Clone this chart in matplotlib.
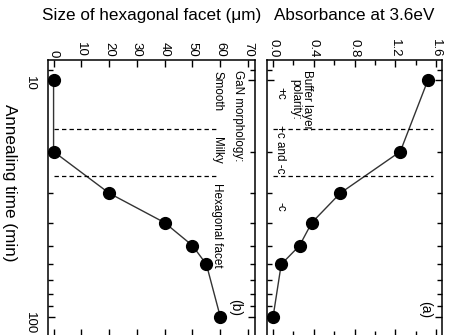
import matplotlib
matplotlib.use('Agg')
from matplotlib import pyplot as plt
from matplotlib.ticker import FixedLocator, MultipleLocator, NullFormatter

plt.rcParams['font.family'] = ['Liberation Sans', 'DejaVu Sans']

# annealing series, shared by both panels
anneal_time = [10, 20, 30, 40, 50, 60, 100]
facet_size = [0, 0, 20, 40, 50, 55, 60]
absorbance = [1.52, 1.25, 0.66, 0.38, 0.26, 0.08, 0.0]

# regime boundaries (min) and the labels between them
boundary_times = [16, 25.5]
morphology = ['Smooth', 'Milky', 'Hexagonal facet']
morphology_times = [11.1, 19.7, 40.9]
polarity = ['+c', '+c and -c', '-c']
polarity_times = [11.3, 19.5, 34.3]

time_minor = [9, 20, 30, 40, 50, 60, 70, 80, 90]


def style_time_axis(ax):
	"""Vertical log time axis, 10 at the top."""
	ax.set_yscale('log')
	ax.set_ylim(120, 8.2)
	ax.yaxis.set_major_locator(FixedLocator([10, 100]))
	ax.yaxis.set_minor_locator(FixedLocator(time_minor))
	ax.yaxis.set_minor_formatter(NullFormatter())
	ax.set_yticklabels(['10', '100'])
	ax.tick_params(axis='both', which='both', direction='in', top=True, bottom=True,
		left=True, right=True, labeltop=True, labelbottom=False, width=1.0)
	ax.tick_params(axis='both', which='major', length=5)
	ax.tick_params(axis='both', which='minor', length=3.5)
	ax.tick_params(axis='x', labelrotation=-90, labelsize=9.5, pad=2)
	ax.tick_params(axis='y', labelrotation=-90, labelsize=9.5, pad=9)
	ax.xaxis.set_label_position('top')
	for s in ax.spines.values():
		s.set_linewidth(1.1)


def main():
	fig = plt.figure(figsize=(4.5, 3.35), dpi=100)
	ax_b = fig.add_axes([0.1067, -0.0015, 0.46, 0.8224])
	ax_a = fig.add_axes([0.5933, -0.0015, 0.389, 0.8224])

	# (b) facet size
	style_time_axis(ax_b)
	ax_b.set_xlim(-2, 72.5)
	ax_b.xaxis.set_major_locator(MultipleLocator(10))
	ax_b.plot(facet_size, anneal_time, '-', color='#333333', lw=1.0,
		marker='o', ms=8.5, mfc='black', mec='black')
	for t in boundary_times:
		ax_b.plot([0, 59], [t, t], color='black', lw=0.9, dashes=(3.5, 2.5))
	ax_b.text(66.4, 9.04, 'GaN morphology:', rotation=-90, ha='center', va='top', fontsize=8.4)
	for name, t in zip(morphology, morphology_times):
		ax_b.text(58.9, t, name, rotation=-90, ha='center', va='center', fontsize=8.4)
	ax_b.text(0.903, 0.103, '(b)', rotation=-90, ha='center', va='center',
		fontsize=10, transform=ax_b.transAxes)
	ax_b.set_xlabel('Size of hexagonal facet (\u03bcm)', fontsize=12.3)
	ax_b.xaxis.set_label_coords(0.5, 1.163)
	ax_b.xaxis.label.set_va('center')
	ax_b.set_ylabel('Annealing time (min)', fontsize=12.3, rotation=-90)
	ax_b.yaxis.label.set_va('center')
	ax_b.yaxis.set_label_coords(-0.188, 0.553)

	# (a) absorbance
	style_time_axis(ax_a)
	ax_a.tick_params(axis='y', labelleft=False)
	ax_a.set_xlim(-0.06, 1.66)
	ax_a.xaxis.set_major_locator(MultipleLocator(0.4))
	ax_a.xaxis.set_minor_locator(MultipleLocator(0.2))
	ax_a.xaxis.set_major_formatter('{x:.1f}')
	ax_a.plot(absorbance, anneal_time, '-', color='#333333', lw=1.0,
		marker='o', ms=8.5, mfc='black', mec='black')
	for t in boundary_times:
		ax_a.plot([0, 1.57], [t, t], color='black', lw=0.9, dashes=(3.5, 2.5))
	ax_a.text(0.275, 9.04, 'Buffer layer\npolarity:', rotation=-90, ha='center', va='top',
		fontsize=8.4, linespacing=0.95)
	for name, t in zip(polarity, polarity_times):
		ax_a.text(0.07, t, name, rotation=-90, ha='center', va='center', fontsize=8.4)
	ax_a.text(0.903, 0.093, '(a)', rotation=-90, ha='center', va='center',
		fontsize=10, transform=ax_a.transAxes)
	ax_a.set_xlabel('Absorbance at 3.6eV', fontsize=12.3)
	ax_a.xaxis.set_label_coords(0.5, 1.163)
	ax_a.xaxis.label.set_va('center')

	fig.savefig('out.png', dpi=100)


if __name__ == '__main__':
	main()
